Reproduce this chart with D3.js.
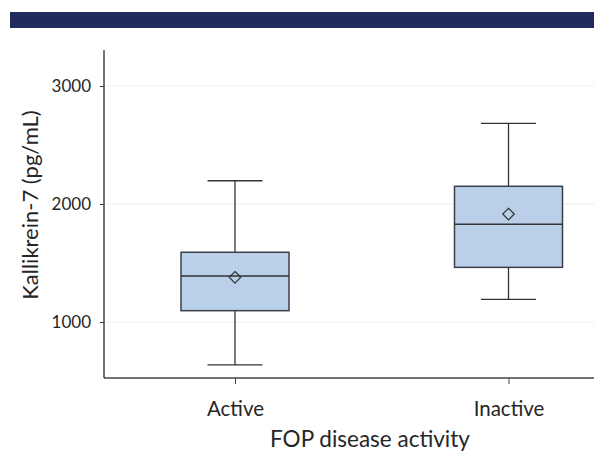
<!DOCTYPE html>
<html>
<head>
<meta charset="utf-8">
<script src="https://cdn.jsdelivr.net/npm/d3@7"></script>
<style>
  body { margin: 0; background: #fff; }
  text { font-family: Lato, "Open Sans", sans-serif; fill: #262626; }
</style>
</head>
<body>
<div id="chart"></div>
<script>
// data
var categories = ["Active", "Inactive"];
var whiskerLow  = [636, 1192];
var q1          = [1096, 1463];
var median      = [1390, 1828];
var q3          = [1591, 2150];
var whiskerHigh = [2197, 2684];
var means       = [1379, 1915];
var yTicks = [1000, 2000, 3000];

var W = 594, H = 451;
var plotLeft = 104, plotTop = 50, plotBottom = 378;

var svg = d3.select('#chart').append('svg')
  .attr('width', W)
  .attr('height', H);

svg.append('rect')
  .attr('width', W).attr('height', H)
  .attr('fill', 'white');

// header band
svg.append('rect')
  .attr('x', 10).attr('y', 12)
  .attr('width', W - 10).attr('height', 16)
  .attr('fill', '#232a5c');

var y = d3.scaleLinear()
  .domain([1000, 3000])
  .range([322, 86]);

var x = d3.scalePoint()
  .domain(categories)
  .range([235, 508.5]);

// grid lines
svg.append('g').selectAll('line')
  .data(yTicks)
  .enter().append('line')
  .attr('x1', plotLeft).attr('x2', W)
  .attr('y1', function (d) { return y(d); })
  .attr('y2', function (d) { return y(d); })
  .style('stroke', '#ececec')
  .style('stroke-width', 1);

// y axis
var yAxis = svg.append('g')
  .attr('transform', 'translate(' + plotLeft + ',0)')
  .call(d3.axisLeft(y).tickValues(yTicks).tickSize(4).tickPadding(9).tickFormat(d3.format('d')));
yAxis.select('.domain').remove();
yAxis.selectAll('.tick line').style('stroke', '#333');
yAxis.selectAll('text').style('font-size', '17px').attr('fill', '#333');
svg.append('line')
  .attr('x1', plotLeft).attr('x2', plotLeft)
  .attr('y1', plotTop).attr('y2', plotBottom)
  .style('stroke', '#444').style('stroke-width', 1.5);

// x axis
var xAxis = svg.append('g')
  .attr('transform', 'translate(0,' + plotBottom + ')')
  .call(d3.axisBottom(x).tickSize(6).tickPadding(17));
xAxis.select('.domain').remove();
xAxis.selectAll('.tick line').style('stroke', '#444');
xAxis.selectAll('text').style('font-size', '20.5px').attr('fill', '#222');
svg.append('line')
  .attr('x1', plotLeft).attr('x2', W)
  .attr('y1', plotBottom).attr('y2', plotBottom)
  .style('stroke', '#444').style('stroke-width', 1.5);

// axis titles
svg.append('text')
  .attr('transform', 'translate(38,205) rotate(-90)')
  .attr('text-anchor', 'middle')
  .style('font-size', '22px')
  .text('Kallikrein-7 (pg/mL)');

svg.append('text')
  .attr('x', 370).attr('y', 447)
  .attr('text-anchor', 'middle')
  .style('font-size', '22.5px')
  .text('FOP disease activity');

// boxes
var boxW = 108, capW = 55;
var boxes = svg.append('g').selectAll('g')
  .data(categories)
  .enter().append('g');

boxes.append('line')
  .attr('x1', function (d) { return x(d); })
  .attr('x2', function (d) { return x(d); })
  .attr('y1', function (d, i) { return y(whiskerHigh[i]); })
  .attr('y2', function (d, i) { return y(whiskerLow[i]); })
  .style('stroke', '#333').style('stroke-width', 1.3);

[whiskerHigh, whiskerLow].forEach(function (arr) {
  boxes.append('line')
    .attr('x1', function (d) { return x(d) - capW / 2; })
    .attr('x2', function (d) { return x(d) + capW / 2; })
    .attr('y1', function (d, i) { return y(arr[i]); })
    .attr('y2', function (d, i) { return y(arr[i]); })
    .style('stroke', '#333').style('stroke-width', 1.3);
});

boxes.append('rect')
  .attr('x', function (d) { return x(d) - boxW / 2; })
  .attr('width', boxW)
  .attr('y', function (d, i) { return y(q3[i]); })
  .attr('height', function (d, i) { return y(q1[i]) - y(q3[i]); })
  .attr('fill', '#bad0e9')
  .style('stroke', '#3a3f4a').style('stroke-width', 1.5);

boxes.append('line')
  .attr('x1', function (d) { return x(d) - boxW / 2; })
  .attr('x2', function (d) { return x(d) + boxW / 2; })
  .attr('y1', function (d, i) { return y(median[i]); })
  .attr('y2', function (d, i) { return y(median[i]); })
  .style('stroke', '#333').style('stroke-width', 1.5);

boxes.append('path')
  .attr('d', d3.symbol(d3.symbolDiamond2, 85))
  .attr('transform', function (d, i) { return 'translate(' + x(d) + ',' + y(means[i]) + ')'; })
  .attr('fill', 'none')
  .style('stroke', '#333').style('stroke-width', 1.2);
</script>
</body>
</html>
